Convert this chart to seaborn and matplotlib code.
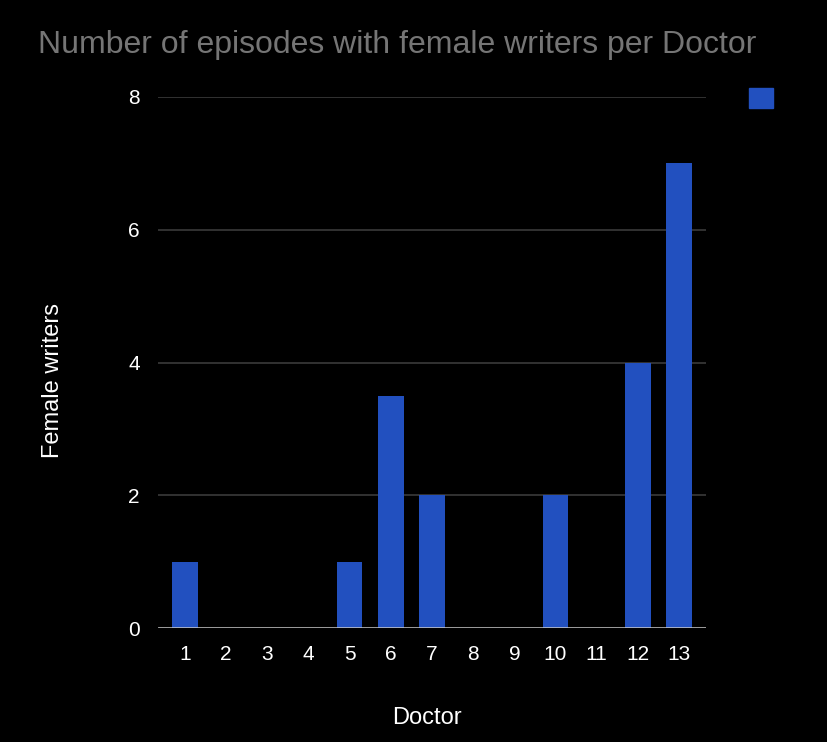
import matplotlib
matplotlib.use("Agg")
import matplotlib.pyplot as plt
import seaborn as sns
import pandas as pd
from matplotlib.patches import Patch

doctors = ["1", "2", "3", "4", "5", "6", "7", "8", "9", "10", "11", "12", "13"]
female_writers = [1, 0, 0, 0, 1, 3.5, 2, 0, 0, 2, 0, 4, 7]
y_ticks = [0, 2, 4, 6, 8]

df = pd.DataFrame({"Doctor": doctors, "Female writers": female_writers})

sns.set_theme(style="dark")
plt.rcParams["font.family"] = ["Liberation Sans", "DejaVu Sans"]

BG = "#000000"
BAR = "#2250BF"

fig = plt.figure(figsize=(8.28, 7.42), dpi=100, facecolor=BG)
ax = fig.add_axes([158/828, 1-628/742, (706-158)/828, (628-97)/742])
ax.set_facecolor(BG)

sns.barplot(data=df, x="Doctor", y="Female writers", color=BAR, width=0.62,
            saturation=1, ax=ax, order=doctors, linewidth=0, edgecolor=BAR)

ax.set_ylim(0, 8)
ax.set_xlim(-0.656, len(doctors) - 1 + 0.656)
ax.set_yticks(y_ticks)
ax.set_yticklabels([str(t) for t in y_ticks])
ax.grid(False)
for t in y_ticks[1:]:
    ax.axhline(t, color="#3a3a3a", lw=1.2, zorder=0)
ax.axhline(0, color="#cccccc", lw=1.8, zorder=3)

for s in ax.spines.values():
    s.set_visible(False)
ax.tick_params(axis="both", length=0, colors="white", labelsize=15)
ax.tick_params(axis="y", pad=13)
ax.tick_params(axis="x", pad=12)
ax.set_xlabel("")
ax.set_ylabel("")

fig.text(53/828, 1-380/742, "Female writers", rotation=90, color="white",
         fontsize=17, ha="center", va="center")
fig.text(427/828, 1-718/742, "Doctor", color="white", fontsize=17,
         ha="center", va="center")
fig.text(38/828, 1-45/742, "Number of episodes with female writers per Doctor",
         color="#757575", fontsize=23, ha="left", va="center")

leg = fig.legend(handles=[Patch(facecolor=BAR, edgecolor=BAR)], labels=[""],
                 loc="center", bbox_to_anchor=(761/828, 1-98/742),
                 frameon=False, fontsize=14, handlelength=1.2, handleheight=1.2,
                 handletextpad=0)

fig.savefig("out.png", dpi=100, facecolor=BG)
